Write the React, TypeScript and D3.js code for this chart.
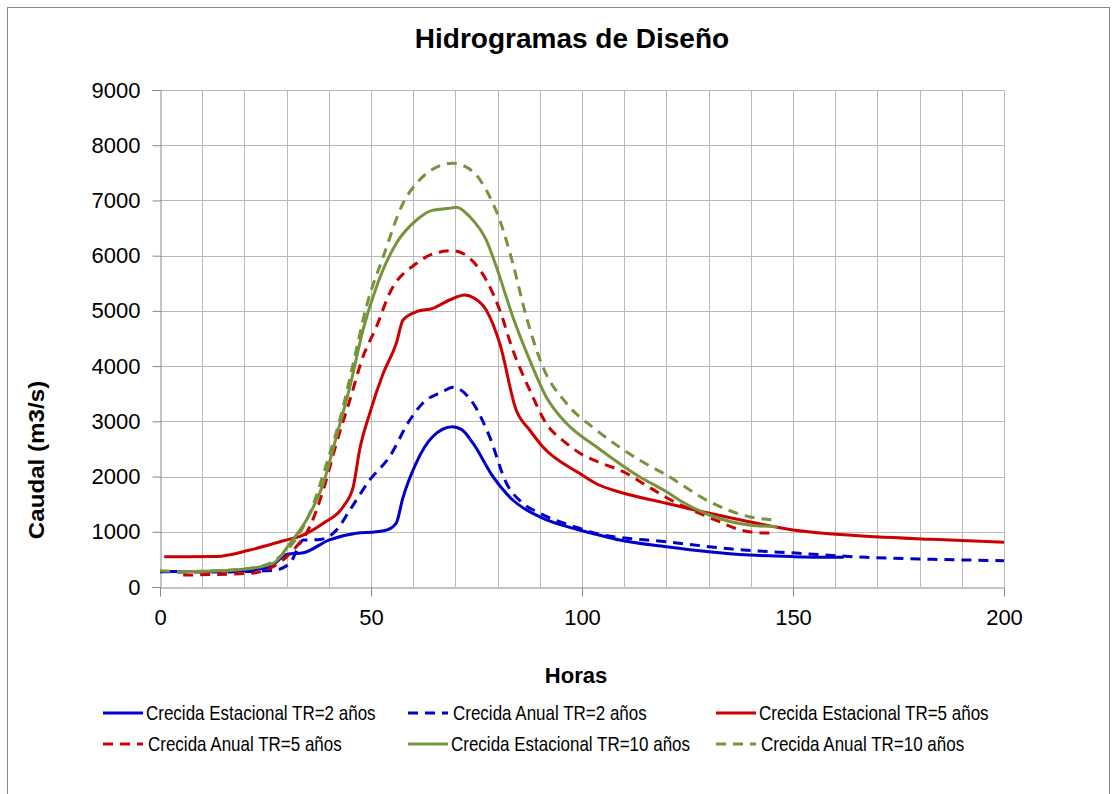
import { useEffect, useRef } from "react";
import * as d3 from "d3";

// [hours, discharge m3/s]
const estacional2 = [
  [0, 280], [10, 280], [20, 300], [26, 360], [30, 590], [34, 620], [40, 850], [46.5, 975],
  [51.3, 1000], [54, 1040], [56, 1160], [57.5, 1600], [60.7, 2245], [64.6, 2720], [69.3, 2900],
  [71.5, 2850], [74.2, 2600], [78.9, 2000], [83.6, 1575], [89.9, 1273], [99.4, 1032],
  [104, 942], [108.9, 851], [120, 730], [130, 640], [139.6, 580], [150, 550], [162, 537]
];
const anual2 = [
  [0, 277], [10, 270], [20, 280], [27, 300], [30.8, 434], [34, 850], [38, 860], [41.8, 1030],
  [45, 1394], [49.7, 1938], [54.4, 2360], [59.2, 3024], [62.3, 3332], [67, 3537], [69.4, 3616],
  [74.2, 3327], [78.1, 2722], [82.1, 1878], [86, 1516], [89.9, 1340], [99.4, 1063], [104, 960],
  [120, 820], [135.6, 688], [151.5, 610], [167.3, 537], [183, 502], [200, 476]
];
const estacional5 = [
  [1, 549], [13.4, 553], [21.3, 670], [29.2, 838], [33.9, 941], [38.7, 1153], [43.4, 1454],
  [45.8, 1816], [47.3, 2481], [49.7, 3145], [52.9, 3870], [56, 4413], [57.6, 4835], [60.8, 4985],
  [64.7, 5047], [68.6, 5197], [72.2, 5288], [74.5, 5230], [77.3, 5016], [80.5, 4413], [84.4, 3205],
  [87.6, 2843], [90.7, 2540], [99.4, 2059], [104, 1847], [107.3, 1757], [120, 1516], [130.2, 1335],
  [139.6, 1183], [150, 1032], [159.4, 960], [169.6, 911], [183, 864], [200, 809]
];
const anual5 = [
  [5.5, 217], [21.3, 248], [26.8, 368], [31.6, 670], [35.5, 1092], [38.7, 1757], [41.8, 2602],
  [45, 3386], [48.1, 4170], [51.3, 4714], [54.4, 5318], [60.8, 5862], [65, 6040], [69.4, 6090],
  [73.4, 5953], [77.3, 5560], [80.5, 5016], [83.6, 4292], [87.6, 3568], [91.5, 2964], [96.3, 2602],
  [100, 2400], [105, 2230], [110, 2080], [115, 1850], [120, 1620], [130.2, 1260], [139.6, 1001],
  [146, 972]
];
const estacional10 = [
  [5, 280], [13, 290], [19.7, 320], [26.8, 429], [30.8, 791], [34.7, 1213], [38.7, 1878],
  [41.8, 2722], [45, 3627], [48.1, 4654], [51.3, 5438], [56, 6224], [60.8, 6646], [64.5, 6820],
  [68.6, 6858], [70.2, 6876], [73.4, 6706], [77.3, 6284], [79.7, 5800], [83.6, 4895], [87.6, 4111],
  [91.5, 3446], [96.3, 2964], [103.4, 2540], [113.6, 1998], [120, 1726], [123, 1575],
  [130.2, 1304], [139.6, 1123], [146.3, 1092]
];
const anual10 = [
  [0, 296], [5.5, 277], [13.4, 296], [21.3, 338], [26, 429], [30.8, 730], [35.5, 1335],
  [39.5, 2240], [42.6, 3024], [45.8, 4051], [48.9, 5076], [52.9, 5981], [57.6, 6949], [60.8, 7311],
  [64.5, 7560], [69.4, 7673], [74.2, 7521], [77.3, 7189], [80.5, 6646], [83.6, 5862], [86.8, 4895],
  [90.7, 3990], [96.3, 3327], [103.4, 2843], [113.6, 2300], [120, 2028], [130.2, 1545],
  [139.6, 1273], [146, 1213]
];

const seriesNames = [
  "Crecida Estacional TR=2 años", "Crecida Anual TR=2 años", "Crecida Estacional TR=5 años",
  "Crecida Anual TR=5 años", "Crecida Estacional TR=10 años", "Crecida Anual TR=10 años"
];
const seriesData = [estacional2, anual2, estacional5, anual5, estacional10, anual10];
const seriesColors = ["#0000CC", "#0000CC", "#CC0000", "#CC0000", "#77933C", "#77933C"];
const seriesDashed = [false, true, false, true, false, true];

const xTicks = [0, 50, 100, 150, 200];
const yTicks = [0, 1000, 2000, 3000, 4000, 5000, 6000, 7000, 8000, 9000];

const FONT = "Arial, 'Liberation Sans', sans-serif";

export default function App() {
  const ref = useRef<SVGSVGElement>(null);

  useEffect(() => {
    const width = 1114;
    const height = 794;
    const marginLeft = 160;
    const marginRight = 110;
    const marginTop = 90;
    const marginBottom = 207;

    const svg = d3.select(ref.current);
    svg.selectAll("*").remove();
    svg.attr("width", width).attr("height", height).style("font-family", FONT);

    svg.append("rect").attr("width", width).attr("height", height).attr("fill", "white");
    svg.append("rect")
      .attr("x", 7.5).attr("y", 7.5).attr("width", 1102).attr("height", 820)
      .attr("fill", "none").attr("stroke", "#888").attr("stroke-width", 1);

    const x = d3.scaleLinear().domain([0, 200]).range([marginLeft, width - marginRight]);
    const y = d3.scaleLinear().domain([0, 9000]).range([height - marginBottom, marginTop]);

    // grid
    const grid = svg.append("g").attr("stroke", "#b8b8b8").attr("stroke-width", 1);
    grid.selectAll("line.v")
      .data(d3.range(10, 201, 10))
      .join("line")
      .attr("x1", d => Math.round(x(d)) + 0.5).attr("x2", d => Math.round(x(d)) + 0.5)
      .attr("y1", y(9000)).attr("y2", y(0));
    grid.selectAll("line.h")
      .data(yTicks.slice(1))
      .join("line")
      .attr("x1", x(0)).attr("x2", x(200))
      .attr("y1", d => Math.round(y(d)) + 0.5).attr("y2", d => Math.round(y(d)) + 0.5);

    // axes
    const yAxis = svg.append("g")
      .attr("transform", `translate(${Math.round(x(0)) + 0.5},0)`)
      .call(d3.axisLeft(y).tickValues(yTicks).tickSize(8).tickPadding(12).tickFormat(d3.format("d")));
    yAxis.select(".domain").attr("stroke", "#888");
    yAxis.selectAll(".tick line").attr("stroke", "#888");
    yAxis.selectAll("text").attr("font-size", 22).attr("fill", "#000").attr("font-family", FONT);

    const xAxis = svg.append("g")
      .attr("transform", `translate(0,${Math.round(y(0)) + 0.5})`)
      .call(d3.axisBottom(x).tickValues(xTicks).tickSize(9).tickPadding(13).tickFormat(d3.format("d")));
    xAxis.select(".domain").attr("stroke", "#888");
    xAxis.selectAll(".tick line").attr("stroke", "#888");
    xAxis.selectAll("text").attr("font-size", 22).attr("fill", "#000").attr("font-family", FONT);

    // lines
    const line = d3.line<number[]>()
      .x(d => x(d[0]))
      .y(d => y(d[1]))
      .curve(d3.curveMonotoneX);

    svg.append("g")
      .selectAll("path")
      .data(d3.range(seriesData.length))
      .join("path")
      .attr("fill", "none")
      .attr("stroke", i => seriesColors[i])
      .attr("stroke-width", 3)
      .attr("stroke-dasharray", i => (seriesDashed[i] ? "10,7" : null))
      .attr("d", i => line(seriesData[i]));

    // titles
    svg.append("text")
      .attr("x", 572).attr("y", 48)
      .attr("text-anchor", "middle")
      .attr("font-size", 28).attr("font-weight", "bold")
      .text("Hidrogramas de Diseño");

    svg.append("text")
      .attr("transform", `translate(44,460) rotate(-90) scale(1.1,1)`)
      .attr("text-anchor", "middle")
      .attr("font-size", 22).attr("font-weight", "bold")
      .text("Caudal  (m3/s)");

    svg.append("text")
      .attr("x", 576).attr("y", 683)
      .attr("text-anchor", "middle")
      .attr("font-size", 22).attr("font-weight", "bold")
      .text("Horas");

    // legend
    const colX = [103, 408, 716];
    const rowY = [713, 744];
    const legend = svg.append("g")
      .selectAll("g")
      .data(seriesNames)
      .join("g")
      .attr("transform", (_, i) => `translate(${colX[i % 3]},${rowY[Math.floor(i / 3)]})`);
    legend.append("line")
      .attr("x1", 0).attr("x2", 40).attr("y1", 0).attr("y2", 0)
      .attr("stroke", (_, i) => seriesColors[i])
      .attr("stroke-width", 3)
      .attr("stroke-dasharray", (_, i) => (seriesDashed[i] ? "10,7" : null));
    legend.append("text")
      .attr("transform", (_, i) => `translate(${seriesDashed[i] ? 45 : 43},0) scale(1,1.18)`)
      .attr("dy", "0.35em")
      .attr("font-size", 17)
      .text(d => d);
  }, []);

  return <svg ref={ref} style={{ position: "absolute", left: 0, top: 0 }}></svg>;
}
